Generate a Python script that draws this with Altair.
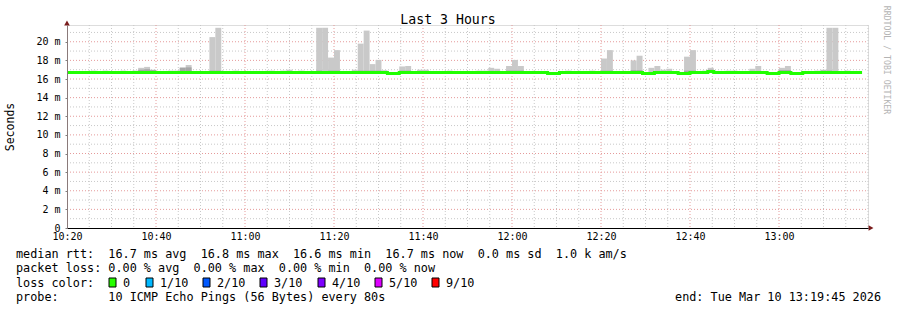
import altair as alt
import pandas as pd

FONT = "DejaVu Sans Mono"
X0, Y0 = 67, 25          # plot origin on the page
W, H = 801, 203

# ---------------- data ----------------
START_MIN = 620          # 10:20 in minutes after midnight
END_MIN = 800            # 13:20
STEP_SEC = 80

# smoke (upper ping spread) per 80 s step index, value in ms
smoke_steps = [4, 6, 9, 11, 12, 13, 14, 17, 18, 19, 20, 24, 25, 28, 34, 36, 37, 39,
               42, 43, 44, 45, 48, 49, 50, 51, 52, 53, 56, 57, 59, 60, 64, 69, 70,
               71, 72, 74, 75, 76, 84, 88, 90, 91, 95, 96, 98, 99, 100, 101, 104,
               105, 107, 108, 111, 112, 115, 116, 120, 121, 126, 127, 128, 129, 131]
smoke_max = [16.9, 16.9, 16.9, 16.9, 17.2, 17.3, 17.0, 16.9, 16.9, 17.25, 17.5,
             20.5, 21.5, 16.9, 16.9, 16.9, 17.0, 16.9, 21.5, 21.5, 18.3, 19.1,
             17.0, 19.8, 21.2, 17.6, 18.05, 16.95, 17.35, 17.4, 17.0, 17.0, 16.9,
             16.9, 16.9, 17.2, 17.1, 17.4, 18.05, 17.4, 16.9, 16.9, 18.2, 19.1,
             18.0, 18.5, 17.2, 17.4, 17.0, 17.1, 18.4, 19.1, 16.9, 17.2, 16.9,
             16.9, 17.1, 17.4, 17.2, 17.4, 16.9, 17.0, 21.5, 21.5, 16.9]
SMOKE_FLOOR = 16.7

# darker inner smoke band
dark_steps = [12, 13, 14, 19, 20, 24, 25, 42, 43, 44, 45, 49, 50, 51, 52, 56, 57,
              74, 75, 76, 90, 91, 95, 96, 104, 105, 108, 120, 121, 127, 128]
dark_top = [17.0, 17.05, 16.95, 17.2, 17.25, 16.9, 16.9, 16.9, 16.85, 16.9, 16.9,
            16.9, 16.9, 16.9, 16.9, 16.9, 16.9, 16.9, 16.9, 16.9, 16.9, 16.9,
            16.95, 16.95, 16.9, 16.9, 17.0, 16.95, 16.95, 16.9, 16.9]

# median rtt (step line), change points
median_steps = [0, 54, 56, 81, 83, 97, 99, 103, 105, 108, 109, 118, 120, 122, 124, 134]
median_vals = [16.7, 16.6, 16.7, 16.6, 16.7, 16.6, 16.7, 16.6, 16.7, 16.8, 16.7,
               16.6, 16.7, 16.6, 16.7, 16.7]

x_ticks = [620, 640, 660, 680, 700, 720, 740, 760, 780]
y_ticks = [0, 2, 4, 6, 8, 10, 12, 14, 16, 18, 20]

loss_labels = ["0", "1/10", "2/10", "3/10", "4/10", "5/10", "9/10"]
loss_colors = ["#26ff00", "#00b8ff", "#0059ff", "#5e00ff", "#7e00ff", "#dd00ff", "#ff0000"]

title_text = "Last 3 Hours"
ytitle_text = "Seconds"
watermark = "RRDTOOL / TOBI OETIKER"
line1 = "median rtt:  16.7 ms avg  16.8 ms max  16.6 ms min  16.7 ms now  0.0 ms sd  1.0 k am/s"
line2 = "packet loss: 0.00 % avg  0.00 % max  0.00 % min  0.00 % now"
line3 = "loss color:"
line4 = "probe:       10 ICMP Echo Pings (56 Bytes) every 80s"
end_text = "end: Tue Mar 10 13:19:45 2026"

# ---------------- tables ----------------
step_min = STEP_SEC / 60.0
smoke = pd.DataFrame({
    "x": [START_MIN + k * step_min for k in smoke_steps],
    "x2": [START_MIN + (k + 1) * step_min for k in smoke_steps],
    "lo": [SMOKE_FLOOR] * len(smoke_steps),
    "hi": smoke_max,
})
dark = pd.DataFrame({
    "x": [START_MIN + k * step_min for k in dark_steps],
    "x2": [START_MIN + (k + 1) * step_min for k in dark_steps],
    "lo": [SMOKE_FLOOR] * len(dark_steps),
    "hi": dark_top,
})
median = pd.DataFrame({
    "x": [START_MIN + k * step_min for k in median_steps],
    "y": median_vals,
})

x_minor = [m for m in range(START_MIN + 5, END_MIN + 1, 5) if m % 20 != 0] + [END_MIN]
x_major = [m for m in range(START_MIN + 20, END_MIN, 20)]
y_minor = list(range(1, 22, 2))
y_major = list(range(2, 21, 2))

xs = alt.Scale(domain=[START_MIN, END_MIN], nice=False, zero=False)
ys = alt.Scale(domain=[0, 21.8], nice=False, zero=False)

x_axis = alt.Axis(values=x_ticks, title=None, grid=False, ticks=False,
                  domainColor="black", domainWidth=1,
                  labelExpr="floor(datum.value/60) + ':' + (datum.value % 60 < 10 ? '0' : '') + (datum.value % 60)",
                  labelFont=FONT, labelFontSize=10, labelColor="black",
                  labelPadding=3, labelFlush=False, labelOverlap=False, zindex=2)
y_axis = alt.Axis(values=y_ticks, title=None, grid=False, ticks=True, tickSize=2,
                  tickColor="#808080", domainColor="#8a7a7a", domainWidth=1,
                  labelExpr="datum.value == 0 ? '0\u00a0\u00a0' : datum.value + '\u00a0m'",
                  labelFont=FONT, labelFontSize=10, labelColor="black",
                  labelPadding=5, labelOverlap=False, zindex=2)


def X(f):
    return alt.X(f, type="quantitative", scale=xs, axis=x_axis)


def Y(f):
    return alt.Y(f, type="quantitative", scale=ys, axis=y_axis)


def vgrid(vals, color):
    return alt.Chart(pd.DataFrame({"v": vals})).mark_rule(
        color=color, strokeWidth=1, strokeDash=[1, 2]
    ).encode(x=X("v"), y=alt.value(0), y2=alt.value(H))


def hgrid(vals, color):
    return alt.Chart(pd.DataFrame({"v": vals})).mark_rule(
        color=color, strokeWidth=1, strokeDash=[1, 2]
    ).encode(y=Y("v"), x=alt.value(0), x2=alt.value(W))


MINOR = "#c8c8c8"
MAJOR = "#e59a9a"

layers = [
    hgrid(y_minor, MINOR), vgrid(x_minor, MINOR),
    hgrid(y_major, MAJOR), vgrid(x_major, MAJOR),
    alt.Chart(smoke).mark_rect(color="#c9c9c9").encode(
        x=X("x"), x2="x2", y=Y("lo"), y2="hi"),
    alt.Chart(dark).mark_rect(color="#a6a6a6").encode(
        x=X("x"), x2="x2", y=Y("lo"), y2="hi"),
    alt.Chart(median).mark_line(interpolate="step-after", color="#22ff00",
                                strokeWidth=3).encode(x=X("x"), y=Y("y")),
    alt.Chart(pd.DataFrame({"x": [START_MIN], "y": [21.8]})).mark_point(
        shape="triangle-up", filled=True, color="#7a1c1c", size=32, opacity=1,
        yOffset=-2).encode(x=X("x"), y=Y("y")),
    alt.Chart(pd.DataFrame({"x": [END_MIN], "y": [0]})).mark_point(
        shape="triangle-right", filled=True, color="#7a1c1c", size=32, opacity=1,
        xOffset=3).encode(x=X("x"), y=Y("y")),
]


def label(text, x, y, size=11.8, align="left", angle=0, color="black"):
    return alt.Chart(pd.DataFrame({"t": [text.replace(" ", "\u00a0")]})).mark_text(
        font=FONT, fontSize=size, align=align, baseline="middle", angle=angle,
        color=color
    ).encode(text="t:N", x=alt.value(x - X0), y=alt.value(y - Y0))


layers += [
    label(title_text, 448, 20, size=13.2, align="center"),
    label(ytitle_text, 11, 127, size=11.5, align="center", angle=270),
    label(watermark, 886, 60, size=8.2, align="center", angle=90, color="#b4b4b4"),
    label(line1, 16, 254),
    label(line2, 16, 268),
    label(line3, 16, 282.5),
    label(line4, 16, 296.5),
    label(end_text, 881, 296.5, align="right"),
]

sq_left = [109, 146, 203, 260, 318, 375, 432]
for lab, col, sx in zip(loss_labels, loss_colors, sq_left):
    layers.append(
        alt.Chart(pd.DataFrame({"c": [col]})).mark_rect(
            stroke="black", strokeWidth=1, color=col
        ).encode(x=alt.value(sx - X0), x2=alt.value(sx + 7 - X0),
                 y=alt.value(278 - Y0), y2=alt.value(287 - Y0))
    )
    layers.append(label(lab, sx + 14, 282.5))

chart = alt.layer(*layers).properties(
    width=W, height=H,
    padding={"left": X0, "top": Y0, "right": 897 - X0 - W, "bottom": 310 - Y0 - H},
    autosize=alt.AutoSizeParams(type="none"),
).configure_view(stroke=None).configure(background="white")

chart.save("out.html", embed_options={"renderer": "svg", "actions": False})
